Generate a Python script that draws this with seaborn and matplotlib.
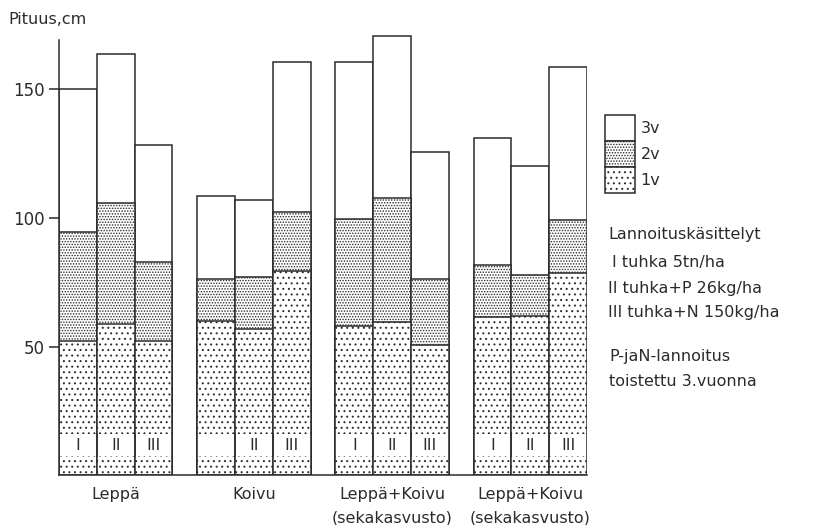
import numpy as np
import pandas as pd
import seaborn as sns
import matplotlib.pyplot as plt
from matplotlib.patches import Patch, Rectangle

groups = ["Leppä", "Koivu", "Leppä+Koivu 1", "Leppä+Koivu 2"]
group_labels = ["Leppä", "Koivu", "Leppä+Koivu\n(sekakasvusto)", "Leppä+Koivu\n(sekakasvusto)"]
treatments = ["I", "II", "III"]
numerals = ["I", "II", "III", "", "II", "III", "I", "II", "III", "I", "II", "III"]

# growth per year, cm (group-major, treatment-minor)
v1 = [52.2, 58.8, 52.3, 60.1, 56.8, 79.4, 58.2, 59.6, 50.7, 61.4, 61.9, 78.8]
v2 = [42.5, 47.2, 30.5, 16.1, 20.3, 22.9, 41.5, 48.2, 25.7, 20.5, 16.0, 20.4]
v3 = [55.3, 57.6, 45.4, 32.5, 29.8, 58.2, 60.9, 63.0, 49.4, 49.1, 42.3, 59.6]

df = pd.DataFrame({
    "ryhma": np.repeat(groups, 3),
    "kasittely": treatments * 4,
    "v1": v1, "v2": v2, "v3": v3,
})
df["y1"] = df["v1"]
df["y2"] = df["v1"] + df["v2"]
df["y3"] = df["y2"] + df["v3"]

sns.set_style("ticks")
plt.rcParams["font.family"] = ["DejaVu Sans"]
plt.rcParams["hatch.linewidth"] = 0.7
ink = "#2b2b2b"
plt.rcParams["hatch.color"] = ink

fig = plt.figure(figsize=(8.4, 5.25), dpi=100)
# y: 2.574 px per cm, zero at 475.4 px from top; axis drawn up to 169
ax = fig.add_axes([59 / 840, 1 - 475.4 / 525, 528 / 840, 178 * 2.574 / 525])

common = dict(data=df, x="ryhma", hue="kasittely", order=groups, hue_order=treatments,
              palette=["white"] * 3, width=0.82, errorbar=None, legend=False,
              edgecolor=ink, linewidth=1.1, ax=ax)
sns.barplot(y="y3", **common)
sns.barplot(y="y2", hatch="......", **common)
sns.barplot(y="y1", hatch="...", **common)

# treatment numerals near the bar bottoms (patches of the last layer)
last = ax.patches[-12:]
for k, p in enumerate(last):
    hue_i, grp_i = divmod(k, 4)
    idx = grp_i * 3 + hue_i
    z = p.get_zorder()
    ax.add_patch(Rectangle((p.get_x(), 7.5), p.get_width(), 8.5, facecolor="white",
                           edgecolor="none", zorder=z + 0.1))
    for xe in (p.get_x(), p.get_x() + p.get_width()):
        ax.plot([xe, xe], [7.5, 16], color=ink, lw=1.1, zorder=z + 0.2)
    ax.text(p.get_x() + p.get_width() / 2, 11.7, numerals[idx], ha="center", va="center",
            fontsize=11.5, color=ink, zorder=z + 0.3)

ax.set_xlim(-0.41, 3.41)
ax.set_ylim(0, 178)
ax.set_yticks([50, 100, 150])
ax.set_xticks(range(4))
ax.set_xticklabels(group_labels, fontsize=11.5, linespacing=1.75, color=ink)
ax.tick_params(axis="x", length=0, pad=8)
ax.tick_params(axis="y", length=7.2, width=1.1, color=ink, labelsize=12, labelcolor=ink, pad=3)
ax.set_xlabel("")
ax.set_ylabel("")
sns.despine(ax=ax)
for s in ["left", "bottom"]:
    ax.spines[s].set_color(ink)
    ax.spines[s].set_linewidth(1.1)
ax.spines["left"].set_bounds(0, 169)

fig.text(8 / 840, 1 - 19 / 525, "Pituus,cm", fontsize=11.5, color=ink, va="center", ha="left")

handles = [Patch(facecolor="white", edgecolor=ink, linewidth=1.1, label="3v"),
           Patch(facecolor="white", edgecolor=ink, linewidth=1.1, hatch="......", label="2v"),
           Patch(facecolor="white", edgecolor=ink, linewidth=1.1, hatch="...", label="1v")]
fig.legend(handles=handles, loc="upper left", bbox_to_anchor=(605 / 840, 1 - 115 / 525),
           frameon=False, fontsize=11.5, handlelength=1.88, handleheight=2.12,
           labelspacing=0, borderpad=0, borderaxespad=0, handletextpad=0.35,
           labelcolor=ink)

notes = [(608, 235, "Lannoituskäsittelyt"), (612, 262, "I tuhka 5tn/ha"),
         (608, 288, "II tuhka+P 26kg/ha"), (608, 312, "III tuhka+N 150kg/ha"),
         (609, 357, "P-jaN-lannoitus"), (609, 381, "toistettu 3.vuonna")]
for x, y, t in notes:
    fig.text(x / 840, 1 - y / 525, t, fontsize=11.5, color=ink, va="center", ha="left")

fig.savefig("out.png", dpi=100)
